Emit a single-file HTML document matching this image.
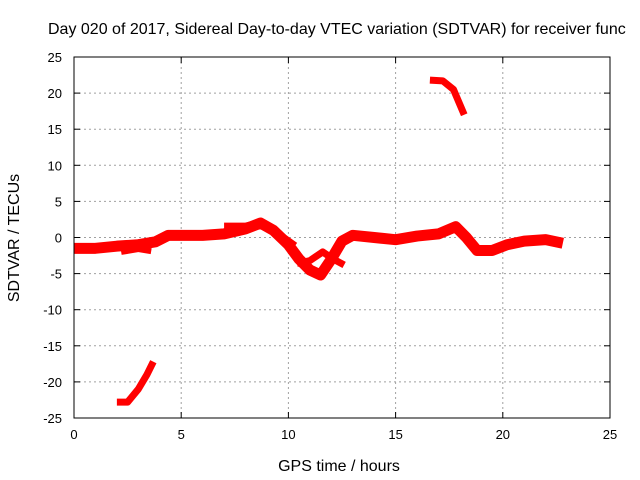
<!DOCTYPE html>
<html><head><meta charset="utf-8"><style>
body{margin:0;background:#fff;overflow:hidden}
svg{display:block;font-family:"Liberation Sans",sans-serif;font-size:13px}
.big{font-size:16px}
</style></head><body>
<svg id="c" width="640" height="480">
<text class="big" x="48" y="34" fill="#000">Day 020 of 2017, Sidereal Day-to-day VTEC variation (SDTVAR) for receiver func</text>
<g id="grid"></g><g id="series"></g><g id="axes"></g>
<text class="big" x="339" y="471" text-anchor="middle">GPS time / hours</text>
<text class="big" transform="translate(19,238) rotate(-90)" text-anchor="middle">SDTVAR / TECUs</text>
</svg>
<script>
const xTicks=[0,5,10,15,20,25];
const yTicks=[25,20,15,10,5,0,-5,-10,-15,-20,-25];
const segMainX=[0,1,2,3,3.8,4.4,5,6,7,8,8.7,9.3,10,10.5,11,11.5,12,12.5,13,14,15,16,17,17.8,18.3,18.8,19.5,20.2,21,22,22.8];
const segMainY=[-1.5,-1.5,-1.2,-1.0,-0.6,0.3,0.3,0.3,0.5,1.2,2.0,1.0,-1.0,-3,-4.5,-5.2,-3,-0.5,0.3,0,-0.3,0.2,0.5,1.5,0,-1.8,-1.8,-1.0,-0.5,-0.3,-0.8];
const segUpperX=[7,8,8.7,9.5,10.3];
const segUpperY=[1.5,1.5,2.0,0.5,-1.2];
const segMidX=[10.4,11,11.6,12.1,12.6];
const segMidY=[-3.6,-3.2,-2.0,-3.0,-3.8];
const segLowX=[2.2,3,3.6];
const segLowY=[-2.0,-1.6,-1.9];
const segBottomX=[2.0,2.5,3.0,3.4,3.7];
const segBottomY=[-22.8,-22.8,-21,-19,-17.2];
const segTopX=[16.6,17.2,17.7,18.2];
const segTopY=[21.8,21.7,20.5,17];
const L=74,R=610,T=57,B=418;
const sx=v=>L+(v-0)/25*(R-L), sy=v=>T+(25-v)/50*(B-T);
const NS="http://www.w3.org/2000/svg";
const mk=(t,a,p)=>{const e=document.createElementNS(NS,t);for(const k in a)e.setAttribute(k,a[k]);p.appendChild(e);return e;};
const grid=document.getElementById('grid'),axes=document.getElementById('axes'),ser=document.getElementById('series');
xTicks.forEach(v=>{const x=sx(v);
 if(v>0&&v<25){const g=mk('line',{x1:x,x2:x,y1:T,y2:B,stroke:'#a0a0a0','stroke-dasharray':'2,3'},grid);
 }
 mk('line',{x1:x,x2:x,y1:B,y2:B-6,stroke:'#000'},axes);mk('line',{x1:x,x2:x,y1:T,y2:T+6,stroke:'#000'},axes);
 const t=mk('text',{x:x,y:B+21,'text-anchor':'middle'},axes);t.textContent=v;
 });
yTicks.forEach(v=>{const y=sy(v);
 if(v>-25&&v<25){const g=mk('line',{x1:L,x2:R,y1:y,y2:y,stroke:'#a0a0a0','stroke-dasharray':'2,3'},grid);
 }
 mk('line',{x1:L,x2:L+6,y1:y,y2:y,stroke:'#000'},axes);mk('line',{x1:R,x2:R-6,y1:y,y2:y,stroke:'#000'},axes);
 const t=mk('text',{x:62,y:y+5,'text-anchor':'end'},axes);t.textContent=v;
 });
const box=mk('rect',{x:L,y:T,width:R-L,height:B-T,fill:'none',stroke:'#000'},axes);

[[segMainX,segMainY,11,'series-main-band'],[segUpperX,segUpperY,8,'series-upper-branch'],[segMidX,segMidY,7,'series-mid-branch'],
 [segLowX,segLowY,6,'series-low-branch'],[segBottomX,segBottomY,7,'series-bottom-arc'],[segTopX,segTopY,7,'series-top-arc']].forEach(s=>{
 const pts=s[0].map((x,i)=>sx(x)+','+sy(s[1][i])).join(' ');
 const p=mk('polyline',{points:pts,fill:'none',stroke:'#ff0000','stroke-width':s[2],'stroke-linejoin':'round'},ser);
 });
</script>
</body></html>
